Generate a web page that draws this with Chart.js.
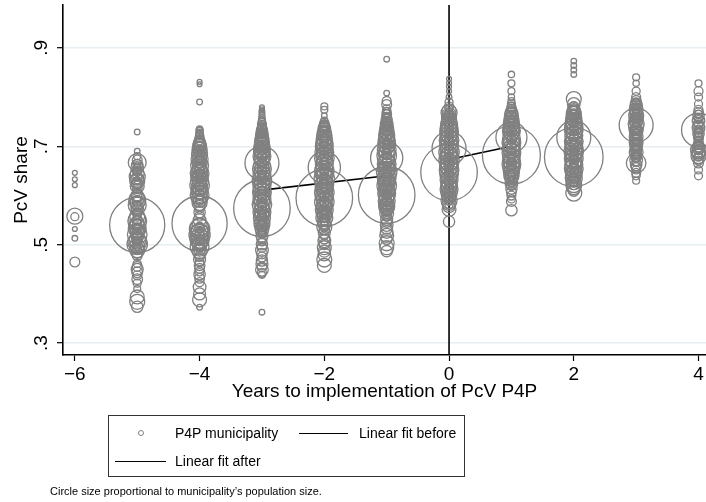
<!DOCTYPE html>
<html>
<head>
<meta charset="utf-8">
<script src="https://cdn.jsdelivr.net/npm/chart.js@4.4.1/dist/chart.umd.min.js"></script>
<style>
  body { margin: 0; background: #fff; font-family: "Liberation Sans", Arial, sans-serif; }
  #wrap { position: relative; width: 706px; height: 502px; }
  #legend { position: absolute; left: 108px; top: 415px; width: 355px; height: 60px;
            border: 1px solid #333; font-size: 14px; color: #000; }
  #legend .item { position: absolute; white-space: nowrap; line-height: 16px; }
  #legend .dot { position: absolute; width: 4px; height: 4px; border: 1px solid #808080; border-radius: 50%; }
  #legend .ln { position: absolute; height: 0; border-top: 1.5px solid #000; }
  #note { position: absolute; left: 50px; top: 485px; font-size: 11px; line-height: 13px; color: #000; }
</style>
</head>
<body>
<div id="wrap">
  <canvas id="chart"></canvas>
  <div id="legend">
    <span class="dot" style="left:29px; top:14px;"></span>
    <span class="item" style="left:66px; top:9px;">P4P municipality</span>
    <span class="ln" style="left:190px; top:17px; width:49px;"></span>
    <span class="item" style="left:250px; top:9px;">Linear fit before</span>
    <span class="ln" style="left:6px; top:45px; width:51px;"></span>
    <span class="item" style="left:66px; top:37px;">Linear fit after</span>
  </div>
  <div id="note">Circle size proportional to municipality’s population size.</div>
</div>
<script>
// [PcV share, population (thousands)] by years to implementation
const yrM6 = [[0.646,1.5],[0.633,1.5],[0.621,1.5],[0.558,16],[0.557,4],[0.532,1.5],[0.513,2],[0.465,6]];
const yrM5 = [[0.729,2],[0.690,2],[0.680,3],[0.672,6],[0.667,20],[0.662,8],[0.656,10],[0.650,5],[0.644,12],[0.638,16],
  [0.634,10],[0.629,14],[0.624,8],[0.619,12],[0.614,6],[0.608,4],[0.600,9],[0.595,14],[0.590,18],[0.585,12],[0.580,20],
  [0.575,10],[0.570,8],[0.564,6],[0.558,14],[0.552,18],[0.548,22],[0.544,12],[0.540,190],[0.537,16],[0.533,20],[0.529,14],
  [0.525,12],[0.521,24],[0.517,10],[0.513,8],[0.509,18],[0.505,22],[0.501,26],[0.497,14],[0.493,10],[0.489,14],[0.484,8],
  [0.478,6],[0.462,4],[0.456,6],[0.450,9],[0.444,7],[0.438,5],[0.430,7],[0.422,4],[0.410,3],[0.394,12],[0.384,14],[0.374,8],
  [0.665,4],[0.659,3],[0.653,6],[0.647,4],[0.641,5],[0.631,3],[0.627,6],[0.621,4],[0.598,5],[0.592,4],[0.588,6],[0.582,3],
  [0.577,5],[0.556,4],[0.550,6],[0.546,3],[0.542,5],[0.535,4],[0.531,6],[0.527,3],[0.523,5],[0.519,4],[0.515,6],[0.511,3],
  [0.507,5],[0.503,4],[0.499,6],[0.495,3],[0.491,5]];
const yrM4 = [[0.831,1.5],[0.826,1.5],[0.790,2],[0.735,2.5],[0.731,3],[0.727,3],[0.722,4],[0.718,5],[0.713,6],[0.709,8],
  [0.705,10],[0.701,12],[0.697,9],[0.693,14],[0.689,10],[0.685,16],[0.681,8],[0.677,12],[0.673,18],[0.669,10],[0.665,14],
  [0.661,20],[0.657,8],[0.653,12],[0.649,16],[0.645,22],[0.641,10],[0.637,18],[0.633,14],[0.629,20],[0.625,12],[0.621,24],
  [0.617,16],[0.613,10],[0.609,18],[0.605,14],[0.601,22],[0.597,12],[0.593,16],[0.589,10],[0.585,14],[0.580,8],[0.574,6],
  [0.566,8],[0.558,6],[0.550,10],[0.543,190],[0.540,14],[0.536,20],[0.532,26],[0.528,16],[0.524,22],[0.520,28],[0.516,18],
  [0.512,24],[0.508,20],[0.504,16],[0.500,12],[0.496,22],[0.492,10],[0.487,14],[0.482,8],[0.476,6],[0.470,9],[0.464,5],
  [0.458,7],[0.452,6],[0.446,5],[0.440,8],[0.432,6],[0.424,5],[0.414,10],[0.400,9],[0.388,12],[0.373,2],
  [0.733,3],[0.724,4],[0.715,3],[0.707,5],[0.703,4],[0.699,6],[0.695,3],[0.691,5],[0.687,4],[0.683,6],[0.679,3],[0.675,5],
  [0.671,4],[0.667,6],[0.663,3],[0.659,5],[0.655,4],[0.651,6],[0.647,3],[0.643,5],[0.639,4],[0.635,6],[0.631,3],[0.627,5],
  [0.623,4],[0.619,6],[0.615,3],[0.611,5],[0.607,4],[0.603,6],[0.599,3],[0.595,5],[0.591,4],[0.587,3],[0.538,4],[0.534,6],
  [0.530,3],[0.526,5],[0.522,4],[0.518,6],[0.514,3],[0.510,5],[0.506,4],[0.502,6],[0.498,3],[0.494,5]];
const yrM3 = [[0.779,1.5],[0.775,1.5],[0.771,2],[0.767,2],[0.763,2],[0.758,2.5],[0.753,3],[0.748,4],[0.744,5],[0.740,5],
  [0.736,6],[0.732,8],[0.728,6],[0.724,10],[0.720,8],[0.716,12],[0.712,10],[0.708,14],[0.704,12],[0.700,16],[0.696,10],
  [0.692,18],[0.688,14],[0.684,12],[0.680,20],[0.676,16],[0.672,14],[0.666,72],[0.662,18],[0.658,12],[0.654,22],[0.650,16],
  [0.646,14],[0.642,20],[0.638,12],[0.634,18],[0.630,24],[0.626,16],[0.622,14],[0.618,20],[0.614,12],[0.610,18],[0.606,22],
  [0.602,16],[0.598,12],[0.594,20],[0.590,14],[0.586,18],[0.582,24],[0.578,12],[0.574,200],[0.570,16],[0.566,20],[0.562,14],
  [0.558,12],[0.554,18],[0.550,10],[0.546,14],[0.542,16],[0.538,8],[0.533,12],[0.528,10],[0.523,6],[0.518,9],[0.513,7],
  [0.507,5],[0.501,8],[0.495,6],[0.489,10],[0.482,7],[0.475,6],[0.468,8],[0.461,9],[0.455,6],[0.449,10],[0.443,5],
  [0.439,3],[0.363,2],
  [0.750,3],[0.742,4],[0.738,3],[0.734,5],[0.730,4],[0.726,6],[0.722,3],[0.718,5],[0.714,4],[0.710,6],[0.706,3],[0.702,5],
  [0.698,4],[0.694,6],[0.690,3],[0.686,5],[0.682,4],[0.678,6],[0.674,3],[0.670,5],[0.668,4],[0.664,6],[0.660,3],[0.656,5],
  [0.652,4],[0.648,6],[0.644,3],[0.640,5],[0.636,4],[0.632,6],[0.628,3],[0.624,5],[0.620,4],[0.616,6],[0.612,3],[0.608,5],
  [0.604,4],[0.600,6],[0.596,3],[0.592,5],[0.588,4],[0.584,6],[0.580,3],[0.576,5],[0.572,4],[0.568,6],[0.564,3],[0.560,5],
  [0.556,4],[0.552,6],[0.548,3],[0.544,5],[0.540,4],[0.535,3],[0.530,5],[0.526,4],[0.520,3]];
const yrM2 = [[0.781,3],[0.774,3],[0.762,2],[0.752,3],[0.748,5],[0.744,6],[0.740,8],[0.736,10],[0.732,8],[0.728,12],
  [0.724,14],[0.720,10],[0.716,16],[0.712,12],[0.708,18],[0.704,14],[0.700,20],[0.696,12],[0.692,16],[0.688,22],[0.684,14],
  [0.680,18],[0.676,24],[0.672,12],[0.668,16],[0.664,20],[0.657,65],[0.654,18],[0.650,24],[0.646,14],[0.642,20],[0.638,16],
  [0.634,26],[0.630,12],[0.626,18],[0.622,22],[0.618,14],[0.614,20],[0.610,16],[0.606,24],[0.602,12],[0.598,20],[0.595,200],
  [0.591,16],[0.587,24],[0.583,12],[0.579,18],[0.575,14],[0.571,20],[0.567,10],[0.563,16],[0.559,12],[0.555,18],[0.551,8],
  [0.546,12],[0.541,10],[0.536,14],[0.530,6],[0.525,9],[0.519,5],[0.513,8],[0.507,10],[0.501,7],[0.494,12],[0.487,9],
  [0.480,10],[0.470,14],[0.458,12],
  [0.746,3],[0.742,4],[0.738,5],[0.734,3],[0.730,6],[0.726,4],[0.722,5],[0.718,3],[0.714,6],[0.710,4],[0.706,5],[0.702,3],
  [0.698,6],[0.694,4],[0.690,5],[0.686,3],[0.682,6],[0.678,4],[0.674,5],[0.670,3],[0.666,6],[0.662,4],[0.660,5],[0.656,3],
  [0.652,6],[0.648,4],[0.644,5],[0.640,3],[0.636,6],[0.632,4],[0.628,5],[0.624,3],[0.620,6],[0.616,4],[0.612,5],[0.608,3],
  [0.604,6],[0.600,4],[0.597,5],[0.593,3],[0.589,6],[0.585,4],[0.581,5],[0.577,3],[0.573,6],[0.569,4],[0.565,5],[0.561,3],
  [0.557,6],[0.553,4],[0.549,5],[0.544,3],[0.539,4],[0.533,3]];
const yrM1 = [[0.877,2],[0.808,2],[0.792,5],[0.785,6],[0.776,4],[0.770,5],[0.764,6],[0.759,5],[0.754,8],[0.749,6],
  [0.745,10],[0.741,8],[0.737,12],[0.733,10],[0.729,14],[0.725,10],[0.721,16],[0.717,12],[0.713,18],[0.709,14],[0.705,20],
  [0.701,16],[0.697,12],[0.693,22],[0.689,14],[0.685,18],[0.681,24],[0.676,65],[0.672,12],[0.668,18],[0.664,22],[0.660,14],
  [0.656,20],[0.652,16],[0.648,26],[0.644,12],[0.640,18],[0.636,22],[0.632,14],[0.628,20],[0.624,16],[0.620,24],[0.616,12],
  [0.612,18],[0.608,14],[0.604,20],[0.601,200],[0.597,16],[0.593,12],[0.589,18],[0.585,10],[0.581,14],[0.577,16],[0.573,12],
  [0.569,8],[0.564,12],[0.558,6],[0.552,9],[0.546,7],[0.540,10],[0.533,8],[0.526,10],[0.519,12],[0.512,8],[0.503,14],
  [0.494,12],[0.487,8],
  [0.772,3],[0.767,4],[0.762,3],[0.757,5],[0.752,4],[0.747,6],[0.743,3],[0.739,5],[0.735,4],[0.731,6],[0.727,3],[0.723,5],
  [0.719,4],[0.715,6],[0.711,3],[0.707,5],[0.703,4],[0.699,6],[0.695,3],[0.691,5],[0.687,4],[0.683,6],[0.679,3],[0.674,5],
  [0.670,4],[0.666,6],[0.662,3],[0.658,5],[0.654,4],[0.650,6],[0.646,3],[0.642,5],[0.638,4],[0.634,6],[0.630,3],[0.626,5],
  [0.622,4],[0.618,6],[0.614,3],[0.610,5],[0.606,4],[0.602,6],[0.599,3],[0.595,5],[0.591,4],[0.587,6],[0.583,3],[0.579,5],
  [0.575,4],[0.571,6],[0.567,3],[0.561,4],[0.555,3]];
const yr0 = [[0.837,1.5],[0.829,1.5],[0.821,1.5],[0.812,1.5],[0.800,2],[0.790,4],[0.781,5],[0.772,12],[0.768,16],[0.764,12],
  [0.760,10],[0.756,14],[0.752,12],[0.748,16],[0.744,18],[0.740,14],[0.736,20],[0.732,16],[0.728,22],[0.724,18],[0.720,14],
  [0.716,20],[0.712,24],[0.708,16],[0.704,22],[0.700,18],[0.696,72],[0.692,20],[0.688,26],[0.684,16],[0.680,22],[0.676,18],
  [0.672,26],[0.668,20],[0.664,16],[0.660,22],[0.656,18],[0.652,24],[0.647,200],[0.644,22],[0.640,18],[0.636,14],[0.632,20],
  [0.628,16],[0.624,12],[0.620,18],[0.616,14],[0.612,20],[0.608,10],[0.604,16],[0.600,12],[0.595,10],[0.590,16],[0.584,12],
  [0.578,10],[0.572,12],[0.547,8],
  [0.776,3],[0.770,4],[0.766,5],[0.762,3],[0.758,6],[0.754,4],[0.750,5],[0.746,3],[0.742,6],[0.738,4],[0.734,5],[0.730,3],
  [0.726,6],[0.722,4],[0.718,5],[0.714,3],[0.710,6],[0.706,4],[0.702,5],[0.698,3],[0.694,6],[0.690,4],[0.686,5],[0.682,3],
  [0.678,6],[0.674,4],[0.670,5],[0.666,3],[0.662,6],[0.658,4],[0.654,5],[0.650,3],[0.645,6],[0.642,4],[0.638,5],[0.634,3],
  [0.630,6],[0.626,4],[0.622,5],[0.618,3],[0.614,6],[0.610,4],[0.606,5],[0.602,3],[0.598,6],[0.593,4],[0.587,3],[0.581,4]];
const yr1 = [[0.846,2.5],[0.828,3],[0.812,3],[0.800,2.5],[0.792,3],[0.786,4],[0.780,5],[0.775,6],[0.771,8],[0.767,10],
  [0.763,12],[0.759,8],[0.755,14],[0.751,10],[0.747,16],[0.743,12],[0.739,18],[0.735,14],[0.731,20],[0.727,16],[0.723,12],
  [0.718,60],[0.715,20],[0.711,16],[0.707,22],[0.703,18],[0.699,14],[0.695,20],[0.691,16],[0.687,22],[0.682,210],[0.679,18],
  [0.675,14],[0.671,20],[0.667,16],[0.663,22],[0.659,14],[0.655,18],[0.651,12],[0.647,16],[0.643,10],[0.639,14],[0.635,10],
  [0.630,8],[0.625,10],[0.620,6],[0.614,8],[0.607,6],[0.600,5],[0.593,4],[0.588,6],[0.570,8],
  [0.783,3],[0.777,4],[0.773,3],[0.769,5],[0.765,4],[0.761,6],[0.757,3],[0.753,5],[0.749,4],[0.745,6],[0.741,3],[0.737,5],
  [0.733,4],[0.729,6],[0.725,3],[0.721,5],[0.716,4],[0.713,6],[0.709,3],[0.705,5],[0.701,4],[0.697,6],[0.693,3],[0.689,5],
  [0.685,4],[0.680,6],[0.677,3],[0.673,5],[0.669,4],[0.665,6],[0.661,3],[0.657,5],[0.653,4],[0.649,6],[0.645,3],[0.641,5],
  [0.637,4],[0.633,3],[0.627,4],[0.622,3]];
const yr2 = [[0.873,2],[0.864,2],[0.855,2],[0.846,2],[0.796,14],[0.786,10],[0.779,8],[0.774,10],[0.770,12],[0.766,14],
  [0.762,10],[0.758,16],[0.754,12],[0.750,18],[0.746,14],[0.742,20],[0.738,16],[0.734,22],[0.730,18],[0.726,14],[0.722,20],
  [0.718,72],[0.714,16],[0.710,22],[0.706,18],[0.702,14],[0.698,20],[0.694,16],[0.690,24],[0.686,18],[0.682,14],[0.678,215],
  [0.675,22],[0.671,18],[0.667,14],[0.663,20],[0.659,16],[0.655,22],[0.651,12],[0.647,18],[0.643,16],[0.639,12],[0.635,18],
  [0.631,10],[0.627,14],[0.622,16],[0.616,12],[0.610,8],[0.605,16],
  [0.782,4],[0.776,3],[0.772,5],[0.768,4],[0.764,6],[0.760,3],[0.756,5],[0.752,4],[0.748,6],[0.744,3],[0.740,5],[0.736,4],
  [0.732,6],[0.728,3],[0.724,5],[0.720,4],[0.716,6],[0.712,3],[0.708,5],[0.704,4],[0.700,6],[0.696,3],[0.692,5],[0.688,4],
  [0.684,6],[0.680,3],[0.676,5],[0.673,4],[0.669,6],[0.665,3],[0.661,5],[0.657,4],[0.653,6],[0.649,3],[0.645,5],[0.641,4],
  [0.637,6],[0.633,3],[0.629,5],[0.625,4],[0.619,3]];
const yr3 = [[0.840,3],[0.828,2.5],[0.812,4],[0.800,5],[0.793,6],[0.787,8],[0.782,10],[0.778,6],[0.774,12],[0.770,8],
  [0.766,10],[0.762,14],[0.758,8],[0.754,12],[0.750,10],[0.746,16],[0.743,72],[0.740,14],[0.736,8],[0.732,12],[0.728,10],
  [0.724,6],[0.720,12],[0.716,8],[0.712,10],[0.708,12],[0.704,8],[0.700,10],[0.696,6],[0.692,8],[0.688,12],[0.684,6],
  [0.680,8],[0.676,5],[0.672,10],[0.666,24],[0.662,8],[0.657,6],[0.652,4],[0.646,5],[0.640,4],[0.630,3],
  [0.790,3],[0.784,4],[0.780,3],[0.776,5],[0.772,4],[0.768,3],[0.764,5],[0.760,4],[0.756,3],[0.752,5],[0.748,4],[0.744,3],
  [0.738,5],[0.734,4],[0.730,3],[0.726,5],[0.722,4],[0.718,3],[0.714,5],[0.710,4],[0.706,3],[0.702,5],[0.698,4],[0.694,3],
  [0.690,5],[0.686,4],[0.682,3],[0.678,4],[0.674,3],[0.669,4]];
const yr4 = [[0.828,3],[0.812,5],[0.800,4],[0.786,4],[0.774,5],[0.768,6],[0.762,8],[0.757,5],[0.752,10],[0.747,6],
  [0.742,8],[0.737,10],[0.733,72],[0.729,6],[0.725,8],[0.721,5],[0.717,6],[0.713,4],[0.709,5],[0.705,6],[0.700,8],
  [0.696,10],[0.692,16],[0.688,12],[0.684,10],[0.680,14],[0.676,8],[0.671,5],[0.666,6],[0.652,4],[0.640,4],
  [0.765,4],[0.754,4],[0.744,4],[0.735,4],[0.727,4],[0.719,4],[0.711,4],[0.702,4],[0.694,4],[0.686,4],[0.678,4]];

const years = [-6, -5, -4, -3, -2, -1, 0, 1, 2, 3, 4];
const byYear = [yrM6, yrM5, yrM4, yrM3, yrM2, yrM1, yr0, yr1, yr2, yr3, yr4];

// linear fits
const fitBeforeX = [-3, -1];
const fitBeforeY = [0.611, 0.640];
const fitAfterX = [0, 1];
const fitAfterY = [0.673, 0.700];

const xTicks = [-6, -4, -2, 0, 2, 4];
const yTicks = [0.3, 0.5, 0.7, 0.9];
const yTickLabels = ['.3', '.5', '.7', '.9'];

const X_MIN = -6.19, X_MAX = 4.12, Y_MIN = 0.276, Y_MAX = 0.987;

const bubbles = [];
years.forEach((yr, i) => {
    byYear[i].forEach(([share, pop]) => {
        bubbles.push({ x: yr, y: share, r: 2 * Math.sqrt(pop) });
    });
});

Chart.defaults.font.family = '"Liberation Sans", Arial, sans-serif';
Chart.defaults.color = '#000';

new Chart(document.getElementById('chart'), {
    data: {
        datasets: [
            {
                type: 'bubble',
                data: bubbles,
                borderColor: '#808080',
                borderWidth: 1.3,
                backgroundColor: 'rgba(0,0,0,0)'
            },
            {
                type: 'line',
                data: fitBeforeX.map((x, i) => ({ x: x, y: fitBeforeY[i] })),
                borderColor: '#000',
                borderWidth: 1.6,
                pointRadius: 0
            },
            {
                type: 'line',
                data: fitAfterX.map((x, i) => ({ x: x, y: fitAfterY[i] })),
                borderColor: '#000',
                borderWidth: 1.6,
                pointRadius: 0
            },
            {
                // xline(0)
                type: 'line',
                data: [{ x: 0, y: Y_MIN }, { x: 0, y: Y_MAX }],
                borderColor: '#000',
                borderWidth: 1.6,
                pointRadius: 0
            }
        ]
    },
    options: {
        responsive: true,
        maintainAspectRatio: false,
        animation: false,
        events: [],
        layout: { autoPadding: false, padding: { top: 5, right: 0, left: 0, bottom: 97 } },
        plugins: {
            legend: { display: false },
            tooltip: { enabled: false }
        },
        scales: {
            x: {
                type: 'linear',
                min: X_MIN,
                max: X_MAX,
                afterFit: s => { s.height = 50; s.paddingLeft = 0; s.paddingRight = 0; },
                afterBuildTicks: s => { s.ticks = xTicks.map(v => ({ value: v })); },
                grid: { drawOnChartArea: false, tickLength: 6, tickColor: '#000', tickWidth: 1.2 },
                border: { color: '#000', width: 1.6 },
                ticks: {
                    font: { size: 19 },
                    padding: 2,
                    maxRotation: 0,
                    callback: v => String(v).replace('-', '\u2212')
                },
                title: {
                    display: true,
                    text: 'Years to implementation of PcV P4P',
                    font: { size: 19 },
                    padding: { top: 0, bottom: 2 }
                }
            },
            y: {
                type: 'linear',
                min: Y_MIN,
                max: Y_MAX,
                afterFit: s => { s.width = 63; s.paddingTop = 0; s.paddingBottom = 0; },
                afterBuildTicks: s => { s.ticks = yTicks.map(v => ({ value: v })); },
                grid: { color: '#e6eef1', lineWidth: 1.4, tickLength: 6, tickColor: '#000', tickWidth: 1.2 },
                border: { color: '#000', width: 1.6 },
                ticks: {
                    font: { size: 19 },
                    padding: 7,
                    minRotation: 90,
                    maxRotation: 90,
                    crossAlign: 'center',
                    callback: (v, i) => yTickLabels[i]
                },
                title: {
                    display: true,
                    text: 'PcV share',
                    font: { size: 19 },
                    padding: { top: 10, bottom: 0 }
                }
            }
        }
    }
});
</script>
</body>
</html>
